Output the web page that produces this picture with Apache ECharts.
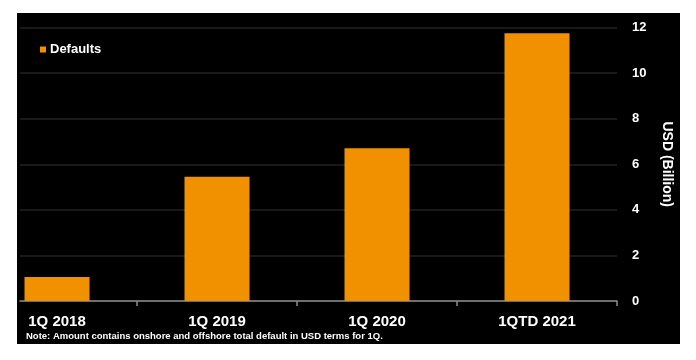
<!DOCTYPE html>
<html>
<head>
<meta charset="utf-8">
<script src="https://cdn.jsdelivr.net/npm/echarts@6/dist/echarts.min.js"></script>
<style>
  html, body { margin: 0; padding: 0; background: #ffffff; }
  #wrap { position: relative; width: 696px; height: 360px; background: #ffffff; }
  #bg { position: absolute; left: 17px; top: 13px; width: 663px; height: 331px; background: #000000; }
  #chart { position: absolute; left: 0; top: 0; width: 696px; height: 360px; }
</style>
</head>
<body>
<div id="wrap">
  <div id="bg"></div>
  <div id="chart"></div>
</div>
<script>
const categories = ['1Q 2018', '1Q 2019', '1Q 2020', '1QTD 2021'];
const seriesName = 'Defaults';
const defaults = [1.05, 5.45, 6.70, 11.75];
const yTicks = [0, 2, 4, 6, 8, 10, 12];
const noteText = 'Note: Amount contains onshore and offshore total default in USD terms for 1Q.';
const axisTitle = 'USD (Billion)';

const FONT = '"Liberation Sans", Arial, sans-serif';
const chart = echarts.init(document.getElementById('chart'), null, { renderer: 'canvas' });

const catIdx = categories.map((c, i) => i);
const tickPos = categories.map((c, i) => i + 0.5);

chart.setOption({
  backgroundColor: 'transparent',
  animation: false,
  textStyle: { fontFamily: FONT },
  grid: { left: 20, right: 79, top: 27.5, bottom: 59, containLabel: false },
  legend: {
    show: true,
    left: 35,
    top: 38,
    icon: 'rect',
    itemWidth: 6,
    itemHeight: 6,
    itemGap: 10,
    data: [seriesName],
    textStyle: { color: '#ffffff', fontWeight: 'bold', fontSize: 13, fontFamily: FONT, padding: [0, 0, 0, -1] }
  },
  xAxis: {
    type: 'value',
    min: -0.23125,
    max: 3.5,
    axisLine: { show: true, lineStyle: { color: '#8c8c8c', width: 1.5 } },
    axisTick: { show: true, customValues: tickPos, length: 5, lineStyle: { color: '#8c8c8c', width: 1.5 } },
    splitLine: { show: false },
    axisLabel: {
      customValues: catIdx,
      formatter: v => categories[Math.round(v)],
      color: '#ffffff',
      fontWeight: 'bold',
      fontSize: 15,
      fontFamily: FONT,
      margin: 13
    }
  },
  yAxis: {
    type: 'value',
    position: 'right',
    min: yTicks[0],
    max: yTicks[yTicks.length - 1],
    interval: yTicks[1] - yTicks[0],
    axisLine: { show: false },
    axisTick: { show: false },
    splitLine: { show: true, lineStyle: { color: '#222222', width: 1.5 } },
    axisLabel: { color: '#ffffff', fontWeight: 'bold', fontSize: 13, fontFamily: FONT, margin: 15, align: 'left' },
    name: axisTitle,
    nameLocation: 'middle',
    nameRotate: -90,
    nameGap: 43,
    nameTextStyle: { color: '#ffffff', fontWeight: 'bold', fontSize: 14, fontFamily: FONT }
  },
  graphic: [{
    type: 'text',
    left: 26,
    top: 331,
    style: { text: noteText, fill: '#ffffff', font: 'bold 9.5px ' + FONT }
  }],
  series: [{
    name: seriesName,
    type: 'bar',
    barWidth: 65,
    itemStyle: { color: '#F29100' },
    data: defaults.map((v, i) => [catIdx[i], v])
  }]
});
</script>
</body>
</html>
